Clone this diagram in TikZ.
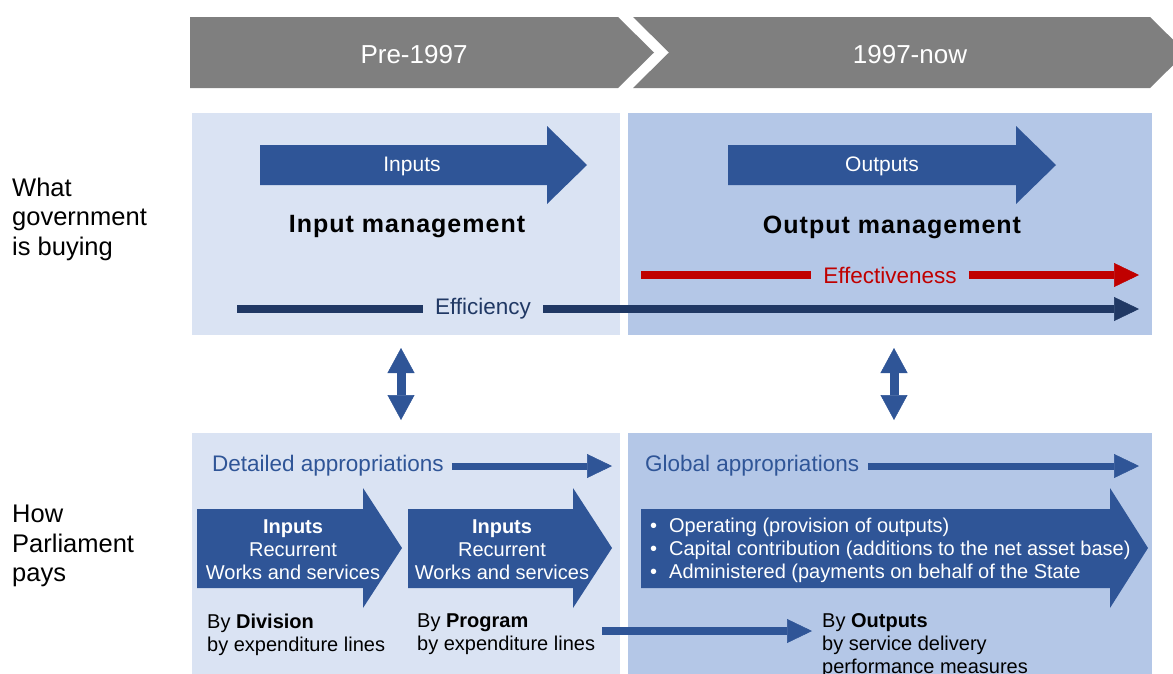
\documentclass[tikz,border=0pt]{standalone}
\usepackage{fontspec}
\setmainfont{Liberation Sans}
\usetikzlibrary{arrows.meta}
\definecolor{hdr}{HTML}{7F7F7F}
\definecolor{paneA}{HTML}{DAE3F3}
\definecolor{paneB}{HTML}{B4C7E7}
\definecolor{blk}{HTML}{2F5597}
\definecolor{dk}{HTML}{203864}
\definecolor{rd}{HTML}{C00000}
\tikzset{
  hdrshape/.style={fill=hdr},
  paneL/.style={fill=paneA},
  paneR/.style={fill=paneB},
  blockarrow/.style={fill=blk},
  hdrtext/.style={text=white,font=\fontsize{26}{30}\selectfont,inner sep=0pt},
  sidetext/.style={align=left,anchor=west,inner sep=0pt,font=\fontsize{25.5}{29.5}\selectfont},
  arrowtext/.style={text=white,font=\fontsize{21}{24}\selectfont,inner sep=0pt},
  mgmt/.style={font=\fontsize{25}{28}\bfseries\addfontfeature{LetterSpace=4}\selectfont,inner sep=0pt},
  linelabel/.style={font=\fontsize{22.5}{26}\selectfont,inner ysep=0pt,inner xsep=12pt},
  applabel/.style={text=blk,font=\fontsize{22.5}{26}\selectfont,inner sep=0pt,anchor=west},
  smalltext/.style={font=\fontsize{20}{23}\selectfont,inner sep=0pt,align=left,anchor=west},
  inarrow/.style={text=white,font=\fontsize{20}{23}\selectfont,inner sep=0pt,align=center},
  thickarrow/.style={line width=#1,-{Triangle[width=24pt,length=25pt,line width=0.5pt]}},
  dblarrow/.style={draw=blk,line width=9pt,{Triangle[width=27pt,length=25pt,line width=0.5pt]}-{Triangle[width=27pt,length=25pt,line width=0.5pt]}}
}
\begin{document}
\begin{tikzpicture}[x=1pt,y=-1pt]
\useasboundingbox (0,0) rectangle (1173,673);
% header chevrons
\fill[hdrshape] (190,17) -- (618,17) -- (654,52.5) -- (618,88) -- (190,88) -- cycle;
\fill[hdrshape] (633,17) -- (1150,17) -- (1186,52.5) -- (1150,88) -- (633,88) -- (669,52.5) -- cycle;
\node[hdrtext] (pre) at (414,55) {Pre-1997};
\node[hdrtext] (now) at (910,55) {1997-now};
% panels
\fill[paneL] (192,113) rectangle (620,335);
\fill[paneR] (628,113) rectangle (1152,335);
\fill[paneL] (192,433) rectangle (620,680);
\fill[paneR] (628,433) rectangle (1152,680);
% side labels
\node[sidetext] (what) at (12,219) {What\\government\\is buying};
\node[sidetext] (how) at (12,546) {How\\Parliament\\pays};
% top block arrows
\fill[blockarrow] (260,145) -- (547,145) -- (547,126) -- (587,165) -- (547,204) -- (547,185) -- (260,185) -- cycle;
\node[arrowtext] (inputs) at (412,166) {Inputs};
\fill[blockarrow] (728,145) -- (1016,145) -- (1016,126) -- (1056,165) -- (1016,204) -- (1016,185) -- (728,185) -- cycle;
\node[arrowtext] (outputs) at (882,166) {Outputs};
\node[mgmt] (inmgmt) at (407,227) {Input management};
\node[mgmt] (outmgmt) at (892,227) {Output management};
% effectiveness
\node[linelabel,text=rd] (eff) at (890,275) {Effectiveness};
\coordinate (effS) at (641,275);
\coordinate (effE) at (1139,275);
\draw[rd,line width=7.5pt] (effS) -- (eff.west);
\draw[rd,thickarrow=7.5pt] (eff.east) -- (effE);
% efficiency
\node[linelabel,text=dk] (effi) at (483,309) {Efficiency};
\coordinate (effiS) at (237,309);
\coordinate (effiE) at (1139,309);
\draw[dk,line width=8pt] (effiS) -- (effi.west);
\draw[dk,thickarrow=8pt] (effi.east) -- (effiE);
% double arrows
\coordinate (d1t) at (401,348);
\coordinate (d1b) at (401,420);
\coordinate (d2t) at (894,348);
\coordinate (d2b) at (894,420);
\draw[dblarrow] (d1t) -- (d1b);
\draw[dblarrow] (d2t) -- (d2b);
% appropriations
\node[applabel] (detapp) at (212,466) {Detailed appropriations};
\coordinate (detE) at (612,466);
\draw[blk,thickarrow=7pt] ([xshift=8pt]detapp.east) -- (detE);
\node[applabel] (globapp) at (645,466) {Global appropriations};
\coordinate (globE) at (1139,466);
\draw[blk,thickarrow=7pt] ([xshift=9pt]globapp.east) -- (globE);
% bottom block arrows
\fill[blockarrow] (197,509) -- (363,509) -- (363,488) -- (402,548) -- (363,608) -- (363,588) -- (197,588) -- cycle;
\node[inarrow] (in1) at (293,550) {\textbf{Inputs}\\Recurrent\\Works and services};
\fill[blockarrow] (408,509) -- (573,509) -- (573,488) -- (612,548) -- (573,608) -- (573,588) -- (408,588) -- cycle;
\node[inarrow] (in2) at (502,550) {\textbf{Inputs}\\Recurrent\\Works and services};
\fill[blockarrow] (641,509) -- (1110,509) -- (1110,488) -- (1148,548) -- (1110,608) -- (1110,588) -- (641,588) -- cycle;
\node[inarrow,align=left,anchor=west] (bul) at (650,550) {\makebox[19pt][l]{•}Operating (provision of outputs)\\\makebox[19pt][l]{•}Capital contribution (additions to the net asset base)\\\makebox[19pt][l]{•}Administered (payments on behalf of the State};
% bottom texts
\node[smalltext] (bydiv) at (207,634.5) {By \textbf{Division}\\by expenditure lines};
\node[smalltext] (byprog) at (417,634.5) {By \textbf{Program}\\by expenditure lines};
\node[smalltext] (byout) at (822,646) {By \textbf{Outputs}\\by service delivery\\performance measures};
\coordinate (cS) at (602,631);
\coordinate (cE) at (812,631);
\draw[blk,thickarrow=8pt] (cS) -- (cE);
\end{tikzpicture}
\end{document}
